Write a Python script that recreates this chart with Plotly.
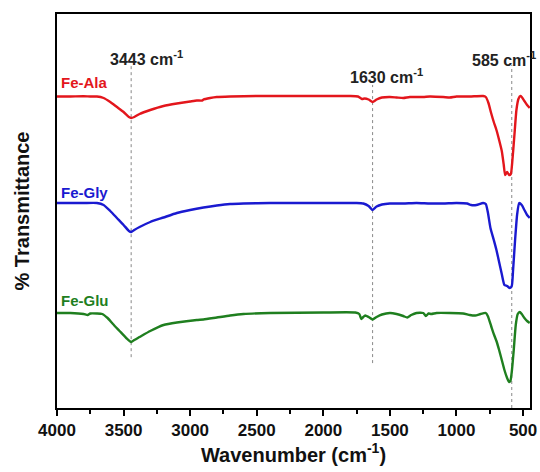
import plotly.graph_objects as go

# Wavenumbers (cm-1) and transmittance (arbitrary offset units)
ala_wn = [4000, 3900, 3800, 3750, 3700, 3650, 3600, 3550, 3500, 3460, 3443, 3420, 3380, 3300, 3200, 3100, 3000, 2950, 2910, 2900, 2850, 2800, 2700, 2500, 2000, 1800, 1740, 1710, 1690, 1660, 1630, 1600, 1560, 1500, 1450, 1400, 1350, 1250, 1200, 1100, 1050, 1000, 900, 800, 780, 760, 740, 720, 700, 680, 660, 645, 635, 620, 605, 592, 580, 565, 550, 535, 520, 510, 490, 470, 450]
ala_px = [96.5, 96.5, 96.2, 96.5, 96.5, 98, 102, 107, 112, 117, 118, 117, 114, 110, 106, 103.5, 101.5, 100.5, 100.5, 99.5, 98, 97, 96.5, 96, 96, 96, 96.5, 99, 98.5, 99.5, 102, 99.5, 97.5, 97, 97.5, 98, 97, 97, 96.5, 97, 97.5, 96.5, 96.5, 96, 97, 103, 113, 122, 130, 140, 151, 165, 175, 172, 175, 174, 160, 135, 110, 99, 96, 97, 101, 105, 108]

gly_wn = [4000, 3800, 3700, 3650, 3600, 3550, 3500, 3460, 3443, 3420, 3380, 3300, 3200, 3100, 3000, 2900, 2800, 2700, 2600, 2400, 2000, 1750, 1700, 1660, 1630, 1600, 1560, 1500, 1400, 1300, 1200, 1100, 1000, 920, 890, 850, 800, 780, 765, 745, 720, 700, 680, 660, 640, 620, 600, 585, 575, 560, 545, 530, 510, 490, 470, 450]
gly_px = [203, 203, 203, 205, 211, 218, 225, 231, 232, 230, 227, 222, 217.5, 213, 210, 207.5, 205.5, 204, 203.5, 203, 203, 203, 203.5, 206, 210, 206.5, 204.5, 203.5, 203.5, 203, 203.5, 203.5, 203, 203.5, 205, 205, 203, 204, 212, 228, 240, 250, 262, 274, 285, 286, 288, 286, 270, 240, 215, 203, 205, 210, 215, 218]

glu_wn = [4000, 3900, 3800, 3770, 3750, 3700, 3660, 3620, 3580, 3530, 3480, 3443, 3420, 3380, 3300, 3200, 3100, 2950, 2900, 2800, 2700, 2600, 2400, 2000, 1760, 1730, 1715, 1700, 1685, 1660, 1630, 1600, 1560, 1500, 1450, 1400, 1370, 1340, 1300, 1250, 1230, 1210, 1190, 1150, 1050, 950, 900, 860, 820, 780, 765, 740, 720, 700, 680, 660, 640, 620, 605, 595, 585, 570, 555, 540, 525, 510, 490, 470, 450]
glu_px = [313, 313, 314, 315, 313.5, 313.5, 314, 318, 324, 331, 338, 342, 340, 337, 331, 325, 322.5, 320, 319.5, 317.5, 315.5, 314, 313, 312.5, 312.5, 314, 319, 317, 315.5, 317, 319.5, 317, 314.5, 313, 314, 316, 317.5, 315, 313, 313, 316, 313.5, 314, 313, 313, 313.5, 315, 315.5, 314, 313, 316, 326, 334, 341, 350, 360, 370, 378, 382, 381, 372, 350, 325, 314, 312, 314, 318, 321, 323]

def to_t(vals):
    return [(408 - v) / 3.94 for v in vals]

series = [
    ("Fe-Ala", ala_wn, to_t(ala_px), "#e3161c"),
    ("Fe-Gly", gly_wn, to_t(gly_px), "#1a1ad0"),
    ("Fe-Glu", glu_wn, to_t(glu_px), "#1f7f1f"),
]
label_y = [82.7, 54.8, 27.4]

peak_wn = [3443, 1630, 585]
peak_labels = ["3443 cm<sup>-1</sup>", "1630 cm<sup>-1</sup>", "585 cm<sup>-1</sup>"]
peak_line_top = [87.1, 82.0, 87.1]
peak_line_bot = [12.9, 11.4, 0.0]
peak_label_x = [3330, 1525, 640]
peak_label_y = [88.8, 84.3, 88.5]

FONT = "Arial, Liberation Sans, Helvetica, sans-serif"

fig = go.Figure()
for name, wn, t, col in series:
    fig.add_trace(go.Scatter(x=wn, y=t, mode="lines", name=name,
                             line=dict(color=col, width=2.4, shape="spline", smoothing=0.5),
                             showlegend=False))

for w, top, bot in zip(peak_wn, peak_line_top, peak_line_bot):
    fig.add_shape(type="line", xref="x", yref="y", x0=w, x1=w, y0=bot, y1=top,
                  line=dict(color="#888888", width=1, dash="dot"), layer="below")

for txt, xx, yy in zip(peak_labels, peak_label_x, peak_label_y):
    fig.add_annotation(x=xx, y=yy, xref="x", yref="y", text="<b>" + txt + "</b>",
                       showarrow=False, font=dict(family=FONT, size=16, color="#222222"),
                       xanchor="center", yanchor="middle")

for (name, wn, t, col), ly in zip(series, label_y):
    fig.add_annotation(x=3985, y=ly, xref="x", yref="y", text="<b>" + name + "</b>",
                       showarrow=False, font=dict(family=FONT, size=15, color=col),
                       xanchor="left", yanchor="middle")

fig.update_layout(
    width=540, height=472,
    margin=dict(l=57, r=10, t=14, b=64),
    paper_bgcolor="white", plot_bgcolor="white",
    font=dict(family=FONT, color="#111111"),
    xaxis=dict(range=[4000, 448], tickvals=[4000, 3500, 3000, 2500, 2000, 1500, 1000, 500],
               ticks="outside", ticklen=6, tickwidth=2, tickcolor="black",
               minor=dict(dtick=250, tick0=0, ticks="outside", ticklen=4, tickwidth=1.5, tickcolor="black"),
               showline=True, linecolor="black", linewidth=2, mirror=True,
               showgrid=False, zeroline=False, automargin=False,
               tickfont=dict(family=FONT, size=17, color="#111111", weight="bold"),
               title=dict(text="<b>Wavenumber (cm<sup>-1</sup>)</b>", font=dict(family=FONT, size=20), standoff=8)),
    yaxis=dict(range=[0, 100], showticklabels=False, ticks="",
               showline=True, linecolor="black", linewidth=2, mirror=True,
               showgrid=False, zeroline=False, automargin=False,
               title=dict(text="<b>% Transmittance</b>", font=dict(family=FONT, size=20), standoff=20)),
)

fig.write_html("out.html", config={"displayModeBar": False},
               post_script="document.body.style.margin='0';")
